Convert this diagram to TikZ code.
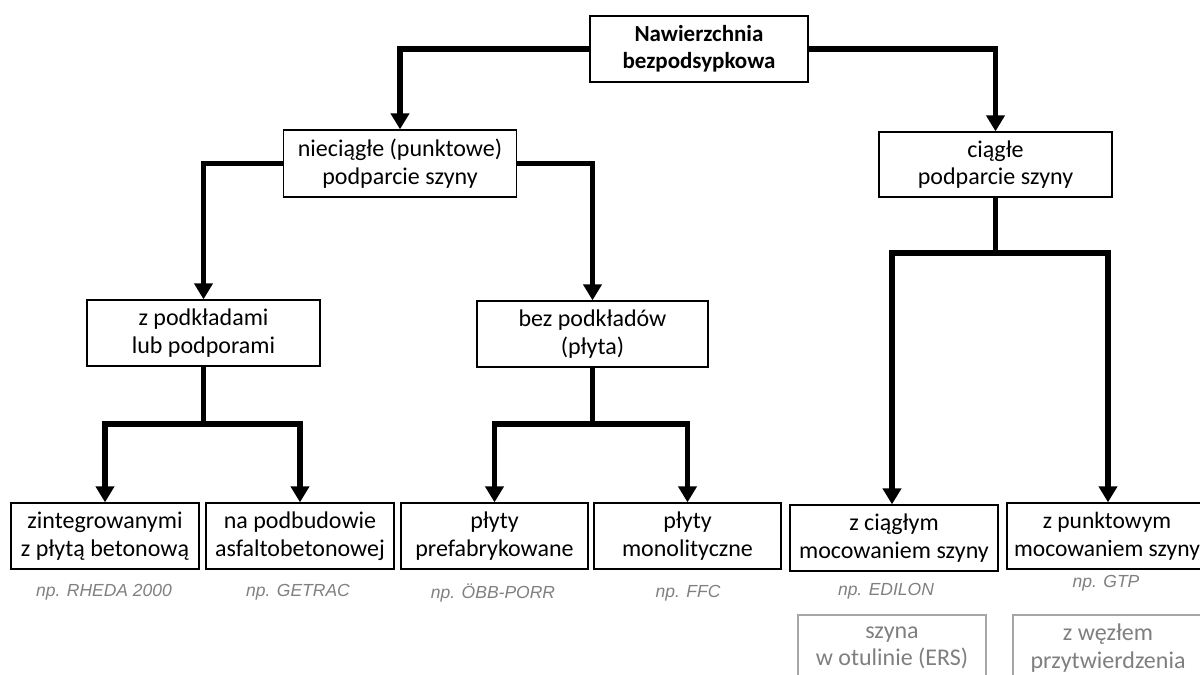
\documentclass[tikz,border=0pt]{standalone}
\usepackage{fontspec}
\setmainfont{Carlito}
\newfontfamily\labelfont{Liberation Sans}
\usetikzlibrary{arrows.meta}
\definecolor{lblgray}{HTML}{808080}
\definecolor{boxgray}{HTML}{A6A6A6}
\definecolor{txtgray}{HTML}{7F7F7F}
\tikzset{
  box/.style={draw=black, line width=1.3pt, fill=white, inner sep=0pt, align=center,
    font=\fontsize{24}{27.5}\selectfont},
  graybox/.style={box, draw=boxgray, text=txtgray},
  conn/.style={line width=5.5pt, line join=miter},
  arr/.style={conn, -{Triangle[width=18pt,length=16pt]}},
  example/.style={text=lblgray, font=\labelfont\itshape\fontsize{17.5}{20}\selectfont, inner sep=0pt}
}
\begin{document}
\begin{tikzpicture}[x=1pt,y=-1pt]
\useasboundingbox (0,0) rectangle (1200,675);
% nodes
\node[box, minimum width=218pt, minimum height=66pt, font=\fontsize{23}{27}\selectfont\bfseries] (top) at (699,49) {Nawierzchnia\\bezpodsypkowa};
\node[box, minimum width=233pt, minimum height=67pt] (niec) at (400,163.5) {nieciągłe (punktowe)\\podparcie szyny};
\node[box, minimum width=233pt, minimum height=65pt] (ciag) at (995.5,164.5) {ciągłe\\podparcie szyny};
\node[box, minimum width=233pt, minimum height=66pt] (zpod) at (203.5,333) {z podkładami\\lub podporami};
\node[box, minimum width=231pt, minimum height=66pt] (bez) at (592.5,334) {bez podkładów\\(płyta)};
\node[box, minimum width=188pt, minimum height=66pt] (b1) at (105,536) {zintegrowanymi\\z płytą betonową};
\node[box, minimum width=188pt, minimum height=66pt] (b2) at (300,536) {na podbudowie\\asfaltobetonowej};
\node[box, minimum width=187pt, minimum height=66pt] (b3) at (494.5,536) {płyty\\prefabrykowane};
\node[box, minimum width=187pt, minimum height=66pt] (b4) at (687.5,536) {płyty\\monolityczne};
\node[box, minimum width=208pt, minimum height=66pt] (b5) at (894,538) {z ciągłym\\mocowaniem szyny};
\node[box, minimum width=200pt, minimum height=66pt, font=\fontsize{23.5}{27.5}\selectfont] (b6) at (1107,536) {z punktowym\\mocowaniem szyny};
\node[graybox, minimum width=188pt, minimum height=66pt] (b7) at (892,648) {szyna\\w otulinie (ERS)};
\node[graybox, minimum width=190pt, minimum height=66pt] (b8) at (1108,648) {z węzłem\\przytwierdzenia};
% example labels
\node[example] (e1) at (104,592) {np. RHEDA 2000};
\node[example] (e2) at (298,592) {np. GETRAC};
\node[example] (e3) at (493,593) {np. ÖBB-PORR};
\node[example] (e4) at (688,593) {np. FFC};
\node[example] (e5) at (886,591) {np. EDILON};
\node[example] (e6) at (1106,583) {np. GTP};
% connectors
\draw[arr] (top.west) -| (niec.north);
\draw[arr] (top.east) -| (ciag.north);
\draw[arr] (niec.west) -| (zpod.north);
\draw[arr] (niec.east) -| (bez.north);
\coordinate (jz) at (203.5,424);
\coordinate (jb) at (592.5,424);
\coordinate (jc) at (995.5,253);
\draw[conn] (zpod.south) -- (jz);
\draw[arr] (jz) -| (b1.north);
\draw[arr] (jz) -| (b2.north);
\draw[conn] (bez.south) -- (jb);
\draw[arr] (jb) -| (b3.north);
\draw[arr] (jb) -| (b4.north);
\draw[conn] (ciag.south) -- (jc);
\draw[arr] (jc) -| ([xshift=-2pt]b5.north);
\draw[arr] (jc) -| ([xshift=1pt]b6.north);
\end{tikzpicture}
\end{document}
